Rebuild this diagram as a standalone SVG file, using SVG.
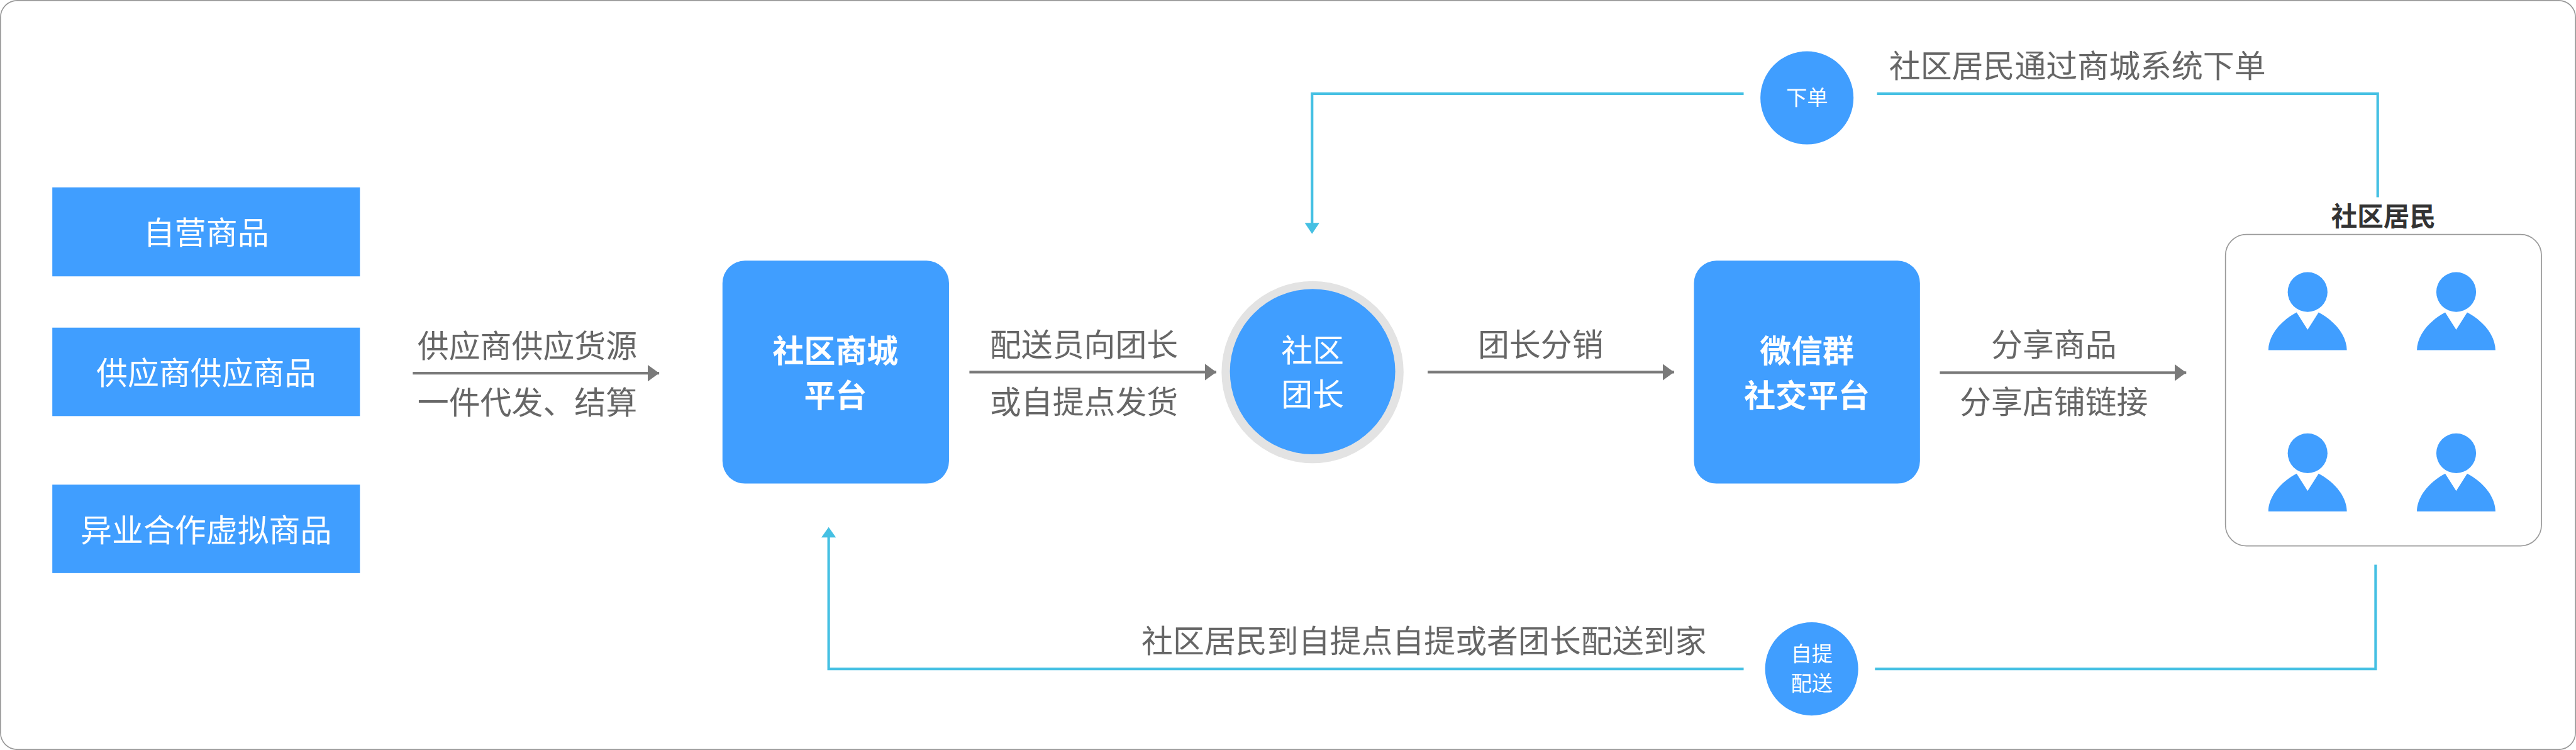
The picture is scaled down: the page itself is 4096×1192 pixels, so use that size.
<svg xmlns="http://www.w3.org/2000/svg" width="4096" height="1192" viewBox="0 0 4096 1192">
<defs>
<marker id="ag" markerUnits="userSpaceOnUse" markerWidth="24" markerHeight="32" refX="22" refY="16" orient="auto"><path d="M0 0L22 16L0 32Z" fill="#7a7a7a"/></marker>
<g id="person"><circle cx="0" cy="0" r="38" fill="#409eff"/><path d="M-21 39L0 72L21 39C54 56 75 85 75 111H-75C-75 85 -54 56 -21 39Z" fill="#409eff"/></g>
</defs>
<style>
text{font-family:"Noto Sans CJK SC","Liberation Sans",sans-serif;text-anchor:middle;font-size:60px}
.w{fill:#fff}.g{fill:#666}.b{font-weight:700}.s{font-size:40px}
.blue{fill:#409eff}
.ga{stroke:#7a7a7a;stroke-width:5;fill:none;marker-end:url(#ag)}
.cy{stroke:#45c0e3;stroke-width:5;fill:none}
</style>
<g transform="scale(0.83184)">
<rect id="frame" x="1" y="1" width="4922" height="1431" rx="32" fill="#fff" stroke="#999" stroke-width="2"/>
<g id="connectors">
<path class="ga" d="M789 713H1260"/>
<path class="ga" d="M1853 711H2325"/>
<path class="ga" d="M2729 711H3200"/>
<path class="ga" d="M3708 712H4179"/>
<path class="cy" d="M4545 377V179H3588"/>
<path class="cy" d="M3333 179H2508V430"/>
<path d="M2494 426H2522L2508 447Z" fill="#45c0e3"/>
<path class="cy" d="M4541 1079V1278H3584"/>
<path class="cy" d="M3333 1278H1584V1024"/>
<path d="M1570 1027H1598L1584 1007Z" fill="#45c0e3"/>
</g>
<g id="node-self"><rect class="blue" x="100" y="358" width="588" height="170"/><text class="w" x="394" y="467">自营商品</text></g>
<g id="node-supplier"><rect class="blue" x="100" y="626" width="588" height="169"/><text class="w" x="394" y="735">供应商供应商品</text></g>
<g id="node-virtual"><rect class="blue" x="100" y="926" width="588" height="169"/><text class="w" x="394" y="1035">异业合作虚拟商品</text></g>
<g id="label-source"><text class="g" x="1008" y="683">供应商供应货源</text><text class="g" x="1008" y="791">一件代发、结算</text></g>
<g id="node-platform"><rect class="blue" x="1381" y="498" width="433" height="426" rx="43"/><text class="w b" x="1597" y="692">社区商城</text><text class="w b" x="1597" y="778">平台</text></g>
<g id="label-delivery"><text class="g" x="2072" y="681">配送员向团长</text><text class="g" x="2072" y="790">或自提点发货</text></g>
<g id="node-leader"><circle cx="2509" cy="711" r="174" fill="#e3e3e3"/><circle class="blue" cx="2509" cy="710" r="158"/><text class="w" x="2509" y="691">社区</text><text class="w" x="2509" y="776">团长</text></g>
<g id="label-sale"><text class="g" x="2945" y="681">团长分销</text></g>
<g id="node-wechat"><rect class="blue" x="3238" y="498" width="432" height="426" rx="43"/><text class="w b" x="3454" y="692">微信群</text><text class="w b" x="3454" y="778">社交平台</text></g>
<g id="label-share"><text class="g" x="3926" y="680">分享商品</text><text class="g" x="3926" y="790">分享店铺链接</text></g>
<g id="node-residents"><text x="4556" y="432" style="font-size:50px;font-weight:700;fill:#333">社区居民</text>
<rect x="4254" y="448" width="604" height="595" rx="40" fill="#fff" stroke="#999" stroke-width="2"/>
<use href="#person" x="4411" y="558"/><use href="#person" x="4695" y="558"/><use href="#person" x="4411" y="866"/><use href="#person" x="4695" y="866"/></g>
<g id="node-order"><circle class="blue" cx="3454" cy="187" r="89"/><text class="w s" x="3454" y="201">下单</text></g>
<text class="g" x="3971" y="148">社区居民通过商城系统下单</text>
<g id="node-pickup"><circle class="blue" cx="3463" cy="1278" r="89"/><text class="w s" x="3463" y="1264">自提</text><text class="w s" x="3463" y="1320">配送</text></g>
<text class="g" x="2722" y="1247">社区居民到自提点自提或者团长配送到家</text>
</g>
</svg>
